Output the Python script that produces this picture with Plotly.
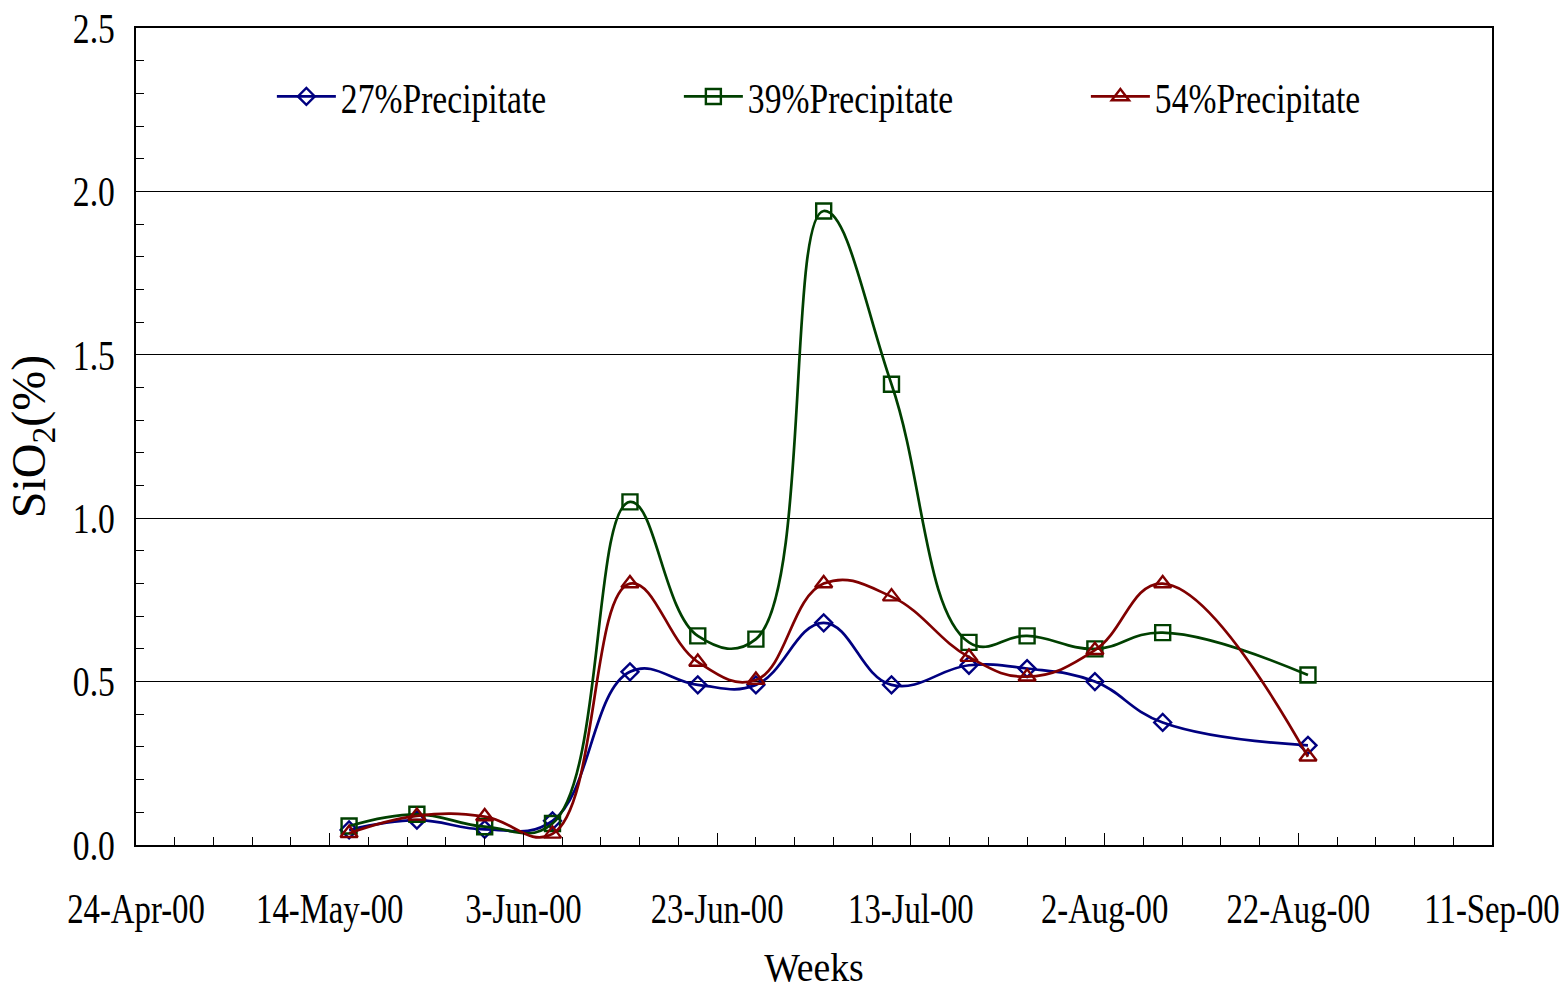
import plotly.graph_objects as go

# Sampling dates (weekly collection)
dates = ["2000-05-16", "2000-05-23", "2000-05-30", "2000-06-06", "2000-06-14",
         "2000-06-21", "2000-06-27", "2000-07-04", "2000-07-11", "2000-07-19",
         "2000-07-25", "2000-08-01", "2000-08-08", "2000-08-23"]

# SiO2 content (%) in each precipitate fraction
sio2_27 = [0.046, 0.076, 0.048, 0.074, 0.53, 0.49, 0.49, 0.68, 0.49, 0.55,
           0.54, 0.50, 0.375, 0.305]
sio2_39 = [0.058, 0.094, 0.056, 0.066, 1.05, 0.64, 0.63, 1.94, 1.41, 0.62,
           0.64, 0.60, 0.65, 0.52]
sio2_54 = [0.036, 0.089, 0.087, 0.034, 0.80, 0.56, 0.505, 0.80, 0.76, 0.575,
           0.515, 0.596, 0.80, 0.27]

series_names = ["27%Precipitate", "39%Precipitate", "54%Precipitate"]
series_vals = [sio2_27, sio2_39, sio2_54]
colors = ["#000080", "#004000", "#800000"]
symbols = ["diamond-open", "square-open", "triangle-up-open"]
sizes = [13, 15, 15]

FONT = "Liberation Serif, Times New Roman, serif"
DAY_MS = 86400000

fig = go.Figure()
for name, vals, col, sym, sz in zip(series_names, series_vals, colors, symbols, sizes):
    fig.add_trace(go.Scatter(
        x=dates, y=vals, name=name, mode="lines+markers",
        line=dict(color=col, width=2.7, shape="spline", smoothing=1.2),
        marker=dict(symbol=sym, size=sz, color=col, line=dict(color=col, width=2.4)),
    ))

fig.update_layout(
    width=1564, height=990,
    margin=dict(l=136, r=72, t=28, b=145),
    paper_bgcolor="white", plot_bgcolor="white",
    font=dict(family=FONT, color="black", size=42),
    showlegend=True,
    legend=dict(
        orientation="h", x=0.1002, xanchor="left", y=0.916, yanchor="middle",
        bgcolor="rgba(0,0,0,0)", borderwidth=0,
        entrywidth=333, entrywidthmode="pixels", itemwidth=59,
        font=dict(family=FONT, size=42),
    ),
    xaxis=dict(
        type="date", range=["2000-04-24", "2000-09-11"],
        tickmode="linear", tick0="2000-04-24", dtick=20 * DAY_MS,
        tickformat="%-d-%b-%y", ticklabeloverflow="allow",
        ticks="inside", ticklen=12, tickcolor="black", tickwidth=1,
        minor=dict(tick0="2000-04-24", dtick=4 * DAY_MS, ticks="inside",
                   ticklen=8, tickcolor="black", tickwidth=1, showgrid=False),
        showgrid=False, zeroline=False, automargin=False,
        showline=True, linecolor="black", linewidth=1.5, mirror=True,
        tickfont=dict(size=42), ticklabelstandoff=26,
        title=dict(text="Weeks", font=dict(size=41), standoff=22),
    ),
    yaxis=dict(
        range=[0, 2.5], tickmode="linear", tick0=0, dtick=0.5, tickformat=".1f",
        ticks="inside", ticklen=8, tickcolor="black", tickwidth=1,
        minor=dict(dtick=0.1, ticks="inside", ticklen=8, tickcolor="black",
                   tickwidth=1, showgrid=False),
        showgrid=True, gridcolor="black", gridwidth=1, zeroline=False,
        automargin=False,
        showline=True, linecolor="black", linewidth=1.5, mirror=True,
        tickfont=dict(size=42), ticklabelstandoff=11,
        title=dict(text="SiO<sub>2</sub>(%)", font=dict(size=48), standoff=0),
    ),
)

# Narrow the serif lettering horizontally (condensed Times look)
condense_js = """
var gd = document.getElementById('{plot_id}');
function condense(sel, f) {
  gd.querySelectorAll(sel).forEach(function (t) {
    var w = t.getComputedTextLength();
    if (w > 0) {
      t.setAttribute('textLength', (w * f).toFixed(1));
      t.setAttribute('lengthAdjust', 'spacingAndGlyphs');
    }
  });
}
condense('g.xtick > text', 0.78);
condense('g.ytick > text', 0.80);
condense('text.legendtext', 0.80);
condense('text.xtitle', 0.92);
"""

fig.write_html("out.html", post_script=condense_js)
